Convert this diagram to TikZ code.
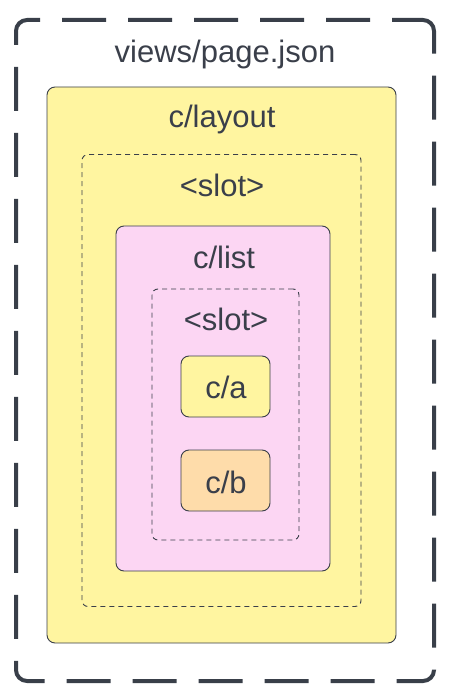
\documentclass[tikz,border=0pt]{standalone}
\usepackage{fontspec}
\setmainfont{Liberation Sans}
\definecolor{ink}{RGB}{58,63,74}
\definecolor{frame}{RGB}{57,63,73}
\definecolor{yel}{RGB}{255,245,160}
\definecolor{pnk}{RGB}{252,214,243}
\definecolor{org}{RGB}{254,220,170}
\tikzset{
  boxbase/.style={rectangle, inner sep=0pt, outer sep=0pt},
  outerbox/.style={boxbase, draw=frame, line width=4pt, rounded corners=11pt, dash pattern=on 44pt off 22pt, dash phase=13pt},
  compbox/.style={boxbase, draw=ink, line width=0.9pt, rounded corners=8pt},
  slotbox/.style={boxbase, draw=ink, line width=0.9pt, rounded corners=6pt, dash pattern=on 5pt off 4pt},
  title/.style={text=ink, font=\fontsize{31}{36}\selectfont, anchor=base, inner sep=0pt}
}
\begin{document}
\begin{tikzpicture}[x=1pt,y=-1pt]
\useasboundingbox (0,0) rectangle (454,700);
\node[outerbox, minimum width=418pt, minimum height=661pt] (page) at (225,350.5) {};
\node[compbox, fill=yel, minimum width=349pt, minimum height=556pt] (layout) at (221.5,365) {};
\node[slotbox, minimum width=279pt, minimum height=452pt] (slotA) at (221.5,380.5) {};
\node[compbox, fill=pnk, minimum width=214pt, minimum height=345pt] (list) at (223,398.5) {};
\node[slotbox, minimum width=147pt, minimum height=251pt] (slotB) at (225.5,414.5) {};
\node[compbox, fill=yel, minimum width=89pt, minimum height=61pt] (ca) at (225.5,386.5) {};
\node[compbox, fill=org, minimum width=89pt, minimum height=61pt] (cb) at (225.5,480.5) {};
\node[title] (tpage) at (225,63) {views/page.json};
\node[title] (tlayout) at (222,128) {c/layout};
\node[title] (tslotA) at (222,197) {<slot>};
\node[title] (tlist) at (224,268) {c/list};
\node[title] (tslotB) at (226,330) {<slot>};
\node[title] (tca) at (226,398) {c/a};
\node[title] (tcb) at (226,493) {c/b};
\end{tikzpicture}
\end{document}
